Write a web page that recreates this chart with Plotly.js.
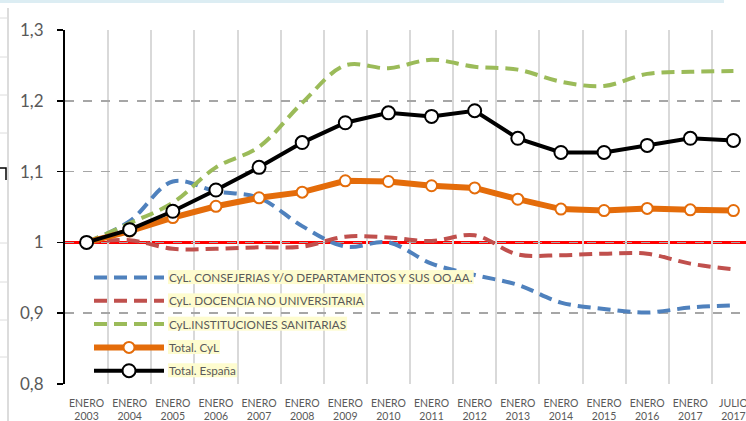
<!DOCTYPE html>
<html>
<head>
<meta charset="utf-8">
<script src="https://cdn.plot.ly/plotly-3.0.1.min.js"></script>
<style>
html,body{margin:0;padding:0;overflow:hidden;background:#fff;width:746px;height:421px;}
#chart{width:770px;height:421px;}
</style>
</head>
<body>
<div id="chart"></div>
<script>
const categories = ['ENERO<br>2003','ENERO<br>2004','ENERO<br>2005','ENERO<br>2006','ENERO<br>2007','ENERO<br>2008','ENERO<br>2009','ENERO<br>2010','ENERO<br>2011','ENERO<br>2012','ENERO<br>2013','ENERO<br>2014','ENERO<br>2015','ENERO<br>2016','ENERO<br>2017','JULIO<br>2017'];

const consejerias = [1.000,1.030,1.086,1.072,1.063,1.023,0.994,1.000,0.970,0.954,0.940,0.915,0.906,0.901,0.908,0.911];
const docencia    = [1.000,1.003,0.991,0.991,0.993,0.994,1.008,1.007,1.002,1.010,0.983,0.982,0.984,0.984,0.970,0.962];
const sanitarias  = [1.000,1.027,1.056,1.106,1.135,1.197,1.250,1.246,1.258,1.248,1.244,1.227,1.221,1.238,1.241,1.242];
const totalCyL    = [1.000,1.016,1.035,1.051,1.063,1.071,1.087,1.086,1.080,1.077,1.061,1.047,1.045,1.048,1.046,1.045];
const totalEsp    = [1.000,1.018,1.044,1.074,1.106,1.141,1.169,1.183,1.178,1.186,1.147,1.127,1.127,1.137,1.147,1.144];

const seriesNames = ['CyL. CONSEJERIAS Y/O DEPARTAMENTOS Y SUS OO.AA.','CyL. DOCENCIA NO UNIVERSITARIA','CyL.INSTITUCIONES SANITARIAS','Total. CyL','Total. España'];
const yTicks = [0.8,0.9,1.0,1.1,1.2,1.3];

const FONT = 'Lato, "Open Sans", sans-serif';
const L = 65, W = 690, T = 30, H = 354;
const px = x => (x - L) / W;
const py = y => (T + H - y) / H;

function dashed(y, name, color, grp) {
  return {x: categories, y: y, name: name, type: 'scatter', mode: 'lines', legendgroup: grp,
    line: {color: color, width: 4, dash: '13px,7px', shape: 'spline', smoothing: 1}};
}
const traces = [
  dashed(consejerias, seriesNames[0], '#4f81bd', 'a'),
  dashed(docencia, seriesNames[1], '#c0504d', 'b'),
  dashed(sanitarias, seriesNames[2], '#9bbb59', 'c'),
  {x: categories, y: totalCyL, name: seriesNames[3], type: 'scatter', mode: 'lines+markers', legendgroup: 'd',
    line: {color: '#e46c0a', width: 6}, marker: {size: 11, color: '#ffffff', line: {color: '#e46c0a', width: 2}}},
  {x: categories, y: totalEsp, name: seriesNames[4], type: 'scatter', mode: 'lines+markers', legendgroup: 'e',
    line: {color: '#000000', width: 4}, marker: {size: 13, color: '#ffffff', line: {color: '#000000', width: 2}}}
];

const gray = '#dcdcdc';
const shapes = [
  {type: 'line', xref: 'paper', yref: 'y', x0: 0, x1: 1, y0: 1, y1: 1, line: {color: '#ff0000', width: 3}, layer: 'between'},
  {type: 'rect', xref: 'paper', yref: 'paper', x0: px(0), x1: px(724), y0: py(0), y1: py(3), fillcolor: '#dcedf3', line: {width: 0}},
  {type: 'line', xref: 'paper', yref: 'paper', x0: px(8), x1: px(8), y0: py(8), y1: py(421), line: {color: gray, width: 2}},
  {type: 'path', xref: 'paper', yref: 'paper', path: `M${px(0)},${py(168)} L${px(6)},${py(168)} L${px(6)},${py(180)}`, line: {color: '#000', width: 1.5}}
];
[18,57,95,133,243,282,320,357].forEach(yy => shapes.push({type: 'line', xref: 'paper', yref: 'paper', x0: px(0), x1: px(8), y0: py(yy), y1: py(yy), line: {color: gray, width: 1}}));

const layout = {
  width: 770, height: 421,
  margin: {l: L, r: 770 - L - W, t: T, b: 421 - T - H},
  paper_bgcolor: '#ffffff', plot_bgcolor: '#ffffff',
  separators: ',.',
  showlegend: true,
  font: {family: FONT, color: '#595959'},
  xaxis: {type: 'category', categoryarray: categories, range: [-0.5, 15.5], tickson: 'boundaries',
    showgrid: true, gridcolor: '#d9d9d9', gridwidth: 2, ticks: '', showline: false, zeroline: false,
    tickfont: {family: FONT, size: 10.5, color: '#595959'}, ticklabelstandoff: 11, fixedrange: true},
  yaxis: {range: [0.8, 1.3], tickvals: yTicks, showgrid: true, gridcolor: '#a6a6a6', gridwidth: 1.5, griddash: 'dash',
    showline: true, linecolor: '#000000', linewidth: 2, ticks: 'outside', ticklen: 6, tickwidth: 1.5, tickcolor: '#000000',
    zeroline: false, tickfont: {family: FONT, size: 17, color: '#595959'}, ticklabelstandoff: 10},
  legend: {x: px(89), y: py(263), xanchor: 'left', yanchor: 'top', bgcolor: 'rgba(0,0,0,0)',
    font: {family: FONT, size: 11.7, color: '#595959'}, itemwidth: 70, traceorder: 'grouped', tracegroupgap: 4.3},
  shapes: shapes
};

Plotly.newPlot('chart', traces, layout, {displayModeBar: false, staticPlot: true}).then(gd => {
  const ns = 'http://www.w3.org/2000/svg';
  gd.querySelectorAll('.legend .traces').forEach(g => {
    const t = g.querySelector('.legendtext');
    if (!t) return;
    const b = t.getBBox();
    const r = document.createElementNS(ns, 'rect');
    r.setAttribute('x', b.x - 1); r.setAttribute('y', b.y);
    r.setAttribute('width', b.width + 2); r.setAttribute('height', b.height);
    r.setAttribute('fill', '#fefccf');
    t.parentNode.insertBefore(r, t);
  });
});
</script>
</body>
</html>
